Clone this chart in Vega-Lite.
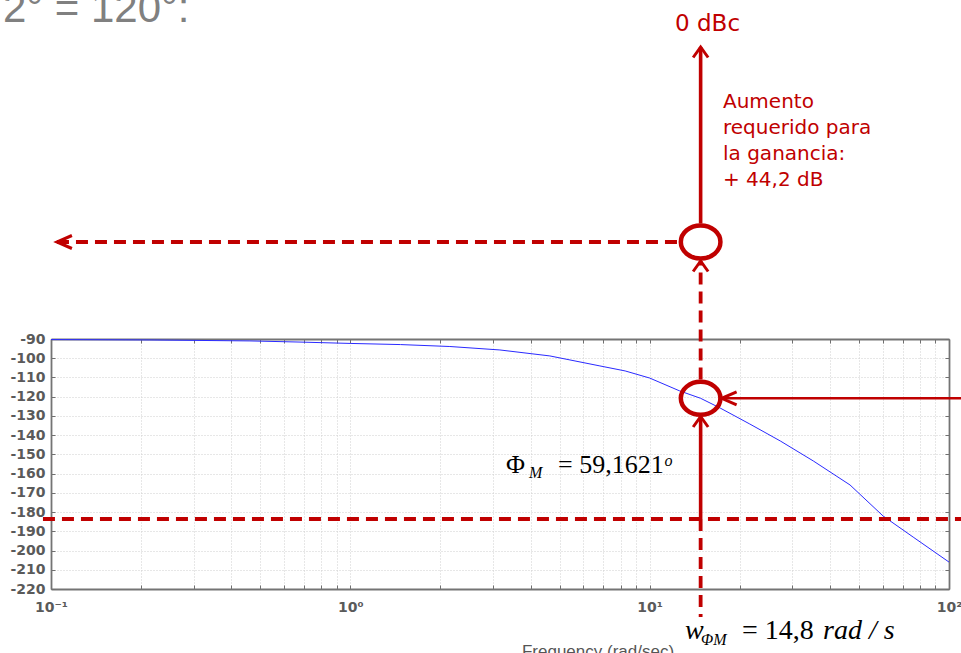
{
  "$schema": "https://vega.github.io/schema/vega-lite/v6.json",
  "width": 898,
  "height": 250,
  "autosize": {"type": "none"},
  "padding": {"left": 51, "top": 339, "right": 12, "bottom": 64},
  "background": "white",
  "config": {
    "view": {"stroke": null},
    "axis": {
      "labelFont": "DejaVu Sans",
      "labelFontSize": 14,
      "labelFontWeight": "bold",
      "labelColor": "#5a5a5a",
      "tickColor": "#707070",
      "tickWidth": 1,
      "tickSize": -4,
      "domainColor": "#747474",
      "domainWidth": 1.8,
      "gridColor": "#cfcfcf",
      "gridDash": [1, 2],
      "gridWidth": 1
    }
  },
  "datasets": {
    "curve": [
      {"f": 0.1, "p": -90.3}, {"f": 0.214, "p": -90.5}, {"f": 0.462, "p": -91.0},
      {"f": 0.679, "p": -91.6}, {"f": 1.0, "p": -92.3}, {"f": 1.47, "p": -92.9},
      {"f": 2.15, "p": -93.9}, {"f": 3.16, "p": -95.7}, {"f": 4.64, "p": -98.8},
      {"f": 6.82, "p": -104.0}, {"f": 8.28, "p": -106.6}, {"f": 10, "p": -110.3},
      {"f": 12.6, "p": -117.0}, {"f": 14.8, "p": -120.84}, {"f": 17.2, "p": -125.9},
      {"f": 21.6, "p": -134.2}, {"f": 27.3, "p": -143.0}, {"f": 35.2, "p": -153.4},
      {"f": 46.7, "p": -165.9}, {"f": 60.2, "p": -182.0}, {"f": 75.9, "p": -193.0},
      {"f": 100, "p": -206.0}
    ],
    "dashed": [
      {"f": 0.1047, "f2": 12.49, "p": -39.56, "p2": -39.56},
      {"f": 0.094, "f2": 109.7, "p": -183.6, "p2": -183.6},
      {"f": 14.8, "f2": 14.8, "p": -111.06, "p2": -49.44},
      {"f": 14.8, "f2": 14.8, "p": -183.6, "p2": -234.56}
    ],
    "solid": [
      {"f": 14.8, "f2": 14.8, "p": -30.0, "p2": 61.84},
      {"f": 14.8, "f2": 14.8, "p": -183.6, "p2": -130.3}
    ],
    "solidThin": [
      {"f": 17.4, "f2": 109.7, "p": -120.84, "p2": -120.84}
    ],
    "circles": [
      {"f": 14.8, "p": -39.56},
      {"f": 14.8, "p": -120.84}
    ],
    "upArrows": [
      {"f": 14.8, "p": 61.84},
      {"f": 14.8, "p": -49.44},
      {"f": 14.8, "p": -130.3}
    ],
    "leftArrows": [
      {"f": 0.1047, "p": -39.56},
      {"f": 17.4, "p": -120.84}
    ],
    "note": [
      {"f": 17.58, "p": 30.12, "t": "Aumento\nrequerido para\nla ganancia:\n+ 44,2 dB"}
    ],
    "dbc": [
      {"f": 15.61, "p": 70.16, "t": "0 dBc"}
    ],
    "heading": [
      {"f": 0.0691, "p": 74.84, "t": "2° = 120°:"}
    ],
    "serif": [
      {"f": 3.312, "p": -159.68, "t": "Φ"},
      {"f": 4.941, "p": -159.68, "t": "= 59,1621"}
    ],
    "serifWide": [
      {"f": 20.35, "p": -246.0, "t": "= 14,8"}
    ],
    "serifItalic": [
      {"f": 13.13, "p": -246.0, "t": "w"},
      {"f": 37.94, "p": -246.0, "t": "rad / s"}
    ],
    "serifSmall": [
      {"f": 3.953, "p": -162.28, "t": "M"},
      {"f": 11.2, "p": -156.04, "t": "o"},
      {"f": 14.84, "p": -249.1, "t": "ΦM"}
    ],
    "freq": [
      {"f": 6.72, "p": -255.4, "t": "Frequency  (rad/sec)"}
    ]
  },
  "encoding": {
    "x": {"field": "f", "type": "quantitative", "scale": {"type": "log", "domain": [0.1, 100], "nice": false}, "axis": null},
    "y": {"field": "p", "type": "quantitative", "scale": {"domain": [-220, -90], "nice": false, "zero": false}, "axis": null}
  },
  "layer": [
    {
      "data": {"name": "curve"},
      "mark": {"type": "line", "color": "#2a2aff", "strokeWidth": 1, "clip": true},
      "encoding": {
        "x": {
          "field": "f", "type": "quantitative",
          "scale": {"type": "log", "domain": [0.1, 100], "nice": false},
          "axis": {
            "orient": "bottom", "title": null,
            "values": [0.1, 0.2, 0.3, 0.4, 0.5, 0.6, 0.7, 0.8, 0.9, 1, 2, 3, 4, 5, 6, 7, 8, 9, 10, 20, 30, 40, 50, 60, 70, 80, 90, 100],
            "labelExpr": "datum.value == 0.1 ? '10⁻¹' : datum.value == 1 ? '10⁰' : datum.value == 10 ? '10¹' : datum.value == 100 ? '10²' : ''",
            "labelOverlap": false, "labelFlush": false,
            "labelPadding": 15, "tickSize": -4,
            "grid": true
          }
        },
        "y": {
          "field": "p", "type": "quantitative",
          "scale": {"domain": [-220, -90], "nice": false, "zero": false},
          "axis": {
            "orient": "left", "title": null,
            "values": [-220, -210, -200, -190, -180, -170, -160, -150, -140, -130, -120, -110, -100, -90],
            "labelExpr": "'-' + (-datum.value)",
            "labelOverlap": false, "labelFlush": false,
            "labelPadding": 10, "tickSize": -4,
            "grid": true
          }
        }
      }
    },
    {
      "data": {"name": "dashed"},
      "mark": {"type": "rule", "color": "#c00000", "strokeWidth": 3.8, "strokeDash": [12, 7], "clip": false},
      "encoding": {
        "x": {
          "field": "f", "type": "quantitative",
          "scale": {"type": "log", "domain": [0.1, 100], "nice": false},
          "axis": {
            "orient": "top", "title": null, "labels": false, "grid": false,
            "values": [0.1, 0.2, 0.3, 0.4, 0.5, 0.6, 0.7, 0.8, 0.9, 1, 2, 3, 4, 5, 6, 7, 8, 9, 10, 20, 30, 40, 50, 60, 70, 80, 90, 100],
            "tickSize": -4
          }
        },
        "x2": {"field": "f2"},
        "y": {
          "field": "p", "type": "quantitative",
          "scale": {"domain": [-220, -90], "nice": false, "zero": false},
          "axis": {
            "orient": "right", "title": null, "labels": false, "grid": false,
            "values": [-220, -210, -200, -190, -180, -170, -160, -150, -140, -130, -120, -110, -100, -90],
            "tickSize": -4
          }
        },
        "y2": {"field": "p2"}
      }
    },
    {
      "data": {"name": "solid"},
      "mark": {"type": "rule", "color": "#c00000", "strokeWidth": 3.6, "clip": false},
      "encoding": {"x2": {"field": "f2"}, "y2": {"field": "p2"}}
    },
    {
      "data": {"name": "solidThin"},
      "mark": {"type": "rule", "color": "#c00000", "strokeWidth": 2.6, "clip": false},
      "encoding": {"x2": {"field": "f2"}, "y2": {"field": "p2"}}
    },
    {
      "data": {"name": "circles"},
      "mark": {
        "type": "point", "filled": false, "opacity": 1, "color": "#c00000", "strokeWidth": 4.5, "size": 1089, "clip": false,
        "shape": "M 1.2 0 C 1.2 0.5523 0.6628 1 0 1 C -0.6628 1 -1.2 0.5523 -1.2 0 C -1.2 -0.5523 -0.6628 -1 0 -1 C 0.6628 -1 1.2 -0.5523 1.2 0 Z"
      }
    },
    {
      "data": {"name": "upArrows"},
      "mark": {
        "type": "point", "filled": false, "opacity": 1, "color": "#c00000", "strokeWidth": 3, "size": 225, "clip": false,
        "shape": "M -1 1.4 L 0 0 L 1 1.4"
      }
    },
    {
      "data": {"name": "leftArrows"},
      "mark": {
        "type": "point", "filled": false, "opacity": 1, "color": "#c00000", "strokeWidth": 3, "size": 169, "clip": false,
        "shape": "M 2.3 -1 L 0 0 L 2.3 1"
      }
    },
    {
      "data": {"name": "note"},
      "mark": {"type": "text", "align": "left", "baseline": "alphabetic", "font": "DejaVu Sans", "fontSize": 20, "lineHeight": 26, "lineBreak": "\n", "color": "#c00000", "clip": false},
      "encoding": {"text": {"field": "t"}}
    },
    {
      "data": {"name": "dbc"},
      "mark": {"type": "text", "align": "center", "baseline": "alphabetic", "font": "DejaVu Sans", "fontSize": 23, "color": "#c00000", "clip": false},
      "encoding": {"text": {"field": "t"}}
    },
    {
      "data": {"name": "heading"},
      "mark": {"type": "text", "align": "left", "baseline": "alphabetic", "font": "Liberation Sans", "fontSize": 42, "color": "#808080", "clip": false},
      "encoding": {"text": {"field": "t"}}
    },
    {
      "data": {"name": "serif"},
      "mark": {"type": "text", "align": "left", "baseline": "alphabetic", "font": "Liberation Serif", "fontSize": 26, "color": "#000000", "clip": false},
      "encoding": {"text": {"field": "t"}}
    },
    {
      "data": {"name": "serifWide"},
      "mark": {"type": "text", "align": "left", "baseline": "alphabetic", "font": "Liberation Serif", "fontSize": 28, "color": "#000000", "clip": false},
      "encoding": {"text": {"field": "t"}}
    },
    {
      "data": {"name": "serifItalic"},
      "mark": {"type": "text", "align": "left", "baseline": "alphabetic", "font": "Liberation Serif", "fontStyle": "italic", "fontSize": 28, "color": "#000000", "clip": false},
      "encoding": {"text": {"field": "t"}}
    },
    {
      "data": {"name": "serifSmall"},
      "mark": {"type": "text", "align": "left", "baseline": "alphabetic", "font": "Liberation Serif", "fontStyle": "italic", "fontSize": 16, "color": "#000000", "clip": false},
      "encoding": {"text": {"field": "t"}}
    },
    {
      "data": {"name": "freq"},
      "mark": {"type": "text", "align": "center", "baseline": "alphabetic", "font": "Liberation Sans", "fontSize": 17, "color": "#555555", "clip": false},
      "encoding": {"text": {"field": "t"}}
    }
  ],
  "resolve": {"axis": {"x": "independent", "y": "independent"}}
}
